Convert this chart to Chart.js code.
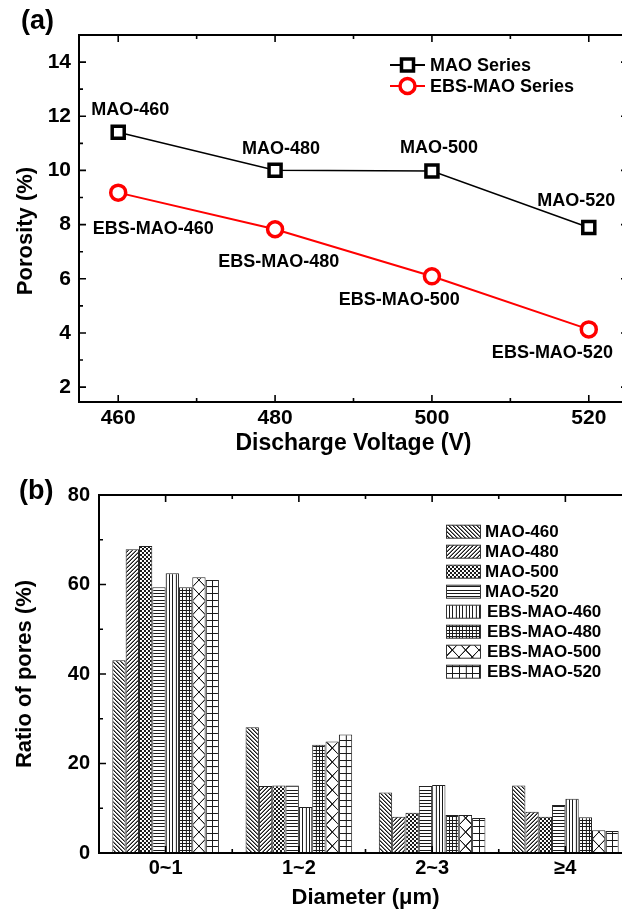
<!DOCTYPE html>
<html><head><meta charset="utf-8">
<script src="https://cdn.jsdelivr.net/npm/chart.js@4.4.1/dist/chart.umd.min.js"></script>
<style>
html,body{margin:0;padding:0;background:#fff;overflow:hidden;width:622px;height:914px;}
#ca{position:absolute;left:0;top:0;}
#cb{position:absolute;left:0;top:460px;}
</style></head><body>
<canvas id="ca" width="640" height="460" style="width:640px;height:460px"></canvas>
<canvas id="cb" width="640" height="454" style="width:640px;height:454px"></canvas>
<script>
// ---------- data (a) ----------
const voltages = [460, 480, 500, 520];
const maoPorosity = [11.41, 10.01, 9.98, 7.89];
const ebsPorosity = [9.18, 7.83, 6.09, 4.13];
const maoPointLabels = ['MAO-460', 'MAO-480', 'MAO-500', 'MAO-520'];
const ebsPointLabels = ['EBS-MAO-460', 'EBS-MAO-480', 'EBS-MAO-500', 'EBS-MAO-520'];
const seriesNamesA = ['MAO Series', 'EBS-MAO Series'];
const xTicksA = [460, 480, 500, 520];
const yTicksA = [2, 4, 6, 8, 10, 12, 14];
const yTitleA = 'Porosity (%)';

// ---------- data (b) ----------
const diameterCats = ['0~1', '1~2', '2~3', '\u22654'];
const sampleNames = ['MAO-460', 'MAO-480', 'MAO-500', 'MAO-520', 'EBS-MAO-460', 'EBS-MAO-480', 'EBS-MAO-500', 'EBS-MAO-520'];
const mao460 = [43.1, 28.1, 13.5, 15.1];
const mao480 = [67.9, 15.0, 8.1, 9.2];
const mao500 = [68.6, 15.1, 9.0, 8.1];
const mao520 = [59.4, 15.1, 15.0, 10.7];
const ebs460 = [62.5, 10.3, 15.2, 12.1];
const ebs480 = [59.4, 24.2, 8.5, 8.0];
const ebs500 = [61.6, 24.9, 8.5, 5.1];
const ebs520 = [61.0, 26.5, 7.8, 4.9];
const yTicksB = [0, 20, 40, 60, 80];

// ---------- styles ----------
const FONT = '"Liberation Sans", Arial, Helvetica, sans-serif';
Chart.defaults.font.family = FONT;
Chart.defaults.color = '#000';

const labelOffsetsA = [
  [[12, -22], [6, -21], [7, -23], [-12.5, -27]],
  [[35, 36], [3.6, 33], [-32.6, 24], [-36.4, 24]]
];

function midpoints(arr) {
  const out = [];
  for (let i = 0; i < arr.length - 1; i++) out.push((arr[i] + arr[i + 1]) / 2);
  return out;
}

function drawFrame(chart, xMaj, xMin, yMaj, yMin) {
  const {ctx, chartArea: {left, right, top, bottom}} = chart;
  const xs = chart.scales.x, ys = chart.scales.y;
  ctx.save();
  ctx.strokeStyle = '#000';
  ctx.lineWidth = 2;
  ctx.strokeRect(left, top, right - left, bottom - top);
  ctx.lineWidth = 1.6;
  ctx.beginPath();
  const vx = (vals, len) => vals.forEach(v => {
    const p = xs.getPixelForValue(v);
    ctx.moveTo(p, bottom); ctx.lineTo(p, bottom - len);
    ctx.moveTo(p, top); ctx.lineTo(p, top + len);
  });
  const vy = (vals, len) => vals.forEach(v => {
    const p = ys.getPixelForValue(v);
    ctx.moveTo(left, p); ctx.lineTo(left + len, p);
    ctx.moveTo(right, p); ctx.lineTo(right - len, p);
  });
  vx(xMaj, 7); vx(xMin, 4); vy(yMaj, 7); vy(yMin, 4);
  ctx.stroke();
  ctx.restore();
}

// ---------- chart (a) ----------
const pluginA = {
  id: 'extrasA',
  afterDatasetsDraw(chart) {
    drawFrame(chart, xTicksA, midpoints(xTicksA), yTicksA, midpoints(yTicksA));
    const ctx = chart.ctx;
    ctx.save();
    // point labels
    ctx.font = 'bold 18px ' + FONT;
    ctx.fillStyle = '#000';
    ctx.textAlign = 'center';
    ctx.textBaseline = 'middle';
    [maoPointLabels, ebsPointLabels].forEach((labels, di) => {
      const meta = chart.getDatasetMeta(di);
      meta.data.forEach((el, j) => {
        const o = labelOffsetsA[di][j];
        ctx.fillText(labels[j], el.x + o[0], el.y + o[1]);
      });
    });
    // legend
    const rows = [65, 86];
    chart.data.datasets.forEach((ds, i) => {
      const y = rows[i];
      ctx.strokeStyle = ds.borderColor;
      ctx.lineWidth = 2;
      ctx.beginPath(); ctx.moveTo(390, y); ctx.lineTo(425, y); ctx.stroke();
      ctx.fillStyle = '#fff';
      ctx.strokeStyle = ds.pointBorderColor;
      ctx.lineWidth = ds.pointBorderWidth;
      Chart.helpers.drawPoint(ctx, {pointStyle: ds.pointStyle, radius: ds.pointRadius, borderWidth: ds.pointBorderWidth, rotation: 0}, 407.5, y);
      ctx.fillStyle = '#000';
      ctx.textAlign = 'left';
      ctx.font = 'bold 18px ' + FONT;
      ctx.fillText(ds.label, 430, y + 1);
    });
    // y-axis title (placed slightly below the plot centre, as in the original)
    ctx.save();
    ctx.translate(26, 231);
    ctx.rotate(-Math.PI / 2);
    ctx.font = 'bold 22px ' + FONT;
    ctx.textAlign = 'center';
    ctx.textBaseline = 'middle';
    ctx.fillText(yTitleA, 0, 0);
    ctx.restore();
    // panel label
    ctx.font = 'bold 27px ' + FONT;
    ctx.textAlign = 'left';
    ctx.textBaseline = 'middle';
    ctx.fillText('(a)', 21, 22);
    ctx.restore();
  }
};

new Chart(document.getElementById('ca'), {
  type: 'line',
  data: {
    datasets: [
      {
        label: seriesNamesA[0],
        data: voltages.map((v, i) => ({x: v, y: maoPorosity[i]})),
        borderColor: '#000', borderWidth: 1.5,
        pointStyle: 'rect', pointRadius: 8.5, pointBorderWidth: 3.5,
        pointBackgroundColor: '#fff', pointBorderColor: '#000', tension: 0
      },
      {
        label: seriesNamesA[1],
        data: voltages.map((v, i) => ({x: v, y: ebsPorosity[i]})),
        borderColor: '#ff0000', borderWidth: 2,
        pointStyle: 'circle', pointRadius: 7.5, pointBorderWidth: 3.5,
        pointBackgroundColor: '#fff', pointBorderColor: '#ff0000', tension: 0
      }
    ]
  },
  options: {
    responsive: false, devicePixelRatio: 1, animation: false,
    layout: {padding: {left: 0, top: 35, right: 10, bottom: 0}},
    plugins: {legend: {display: false}, tooltip: {enabled: false}},
    scales: {
      x: {
        type: 'linear', min: 455, max: 525,
        afterBuildTicks: s => { s.ticks = xTicksA.map(v => ({value: v})); },
        afterFit: s => { s.height = 58; },
        grid: {display: false, drawTicks: false}, border: {display: false},
        ticks: {font: {size: 21, weight: 'bold'}, padding: 4, color: '#000', maxRotation: 0},
        title: {display: true, text: 'Discharge Voltage (V)', font: {size: 23, weight: 'bold'}, padding: {top: 0, bottom: 3}, color: '#000'}
      },
      y: {
        type: 'linear', min: 1.45, max: 15,
        afterBuildTicks: s => { s.ticks = yTicksA.map(v => ({value: v})); },
        afterFit: s => { s.width = 79; },
        grid: {display: false, drawTicks: false}, border: {display: false},
        ticks: {font: {size: 21, weight: 'bold'}, padding: 8, color: '#000'},
        title: {display: false}
      }
    }
  },
  plugins: [pluginA]
});

// ---------- chart (b) ----------
const S = 3; // tile supersampling
function makeTile(kind) {
  const c = document.createElement('canvas');
  let w = 12, h = 12;
  if (kind === 'horiz' || kind === 'vert' || kind === 'grid') { w = 10; h = 10; }
  if (kind === 'diamond') { w = 40; h = 42; }
  if (kind === 'plus') { w = 20; h = 20; }
  c.width = w; c.height = h;
  const g = c.getContext('2d');
  g.fillStyle = '#fff'; g.fillRect(0, 0, w, h);
  g.strokeStyle = '#1a1a1a'; g.fillStyle = '#1a1a1a'; g.lineWidth = S;
  const bd = () => { g.beginPath(); for (let k = -1; k <= 1; k++) { g.moveTo(k * w, 0); g.lineTo(k * w + w, h); } g.stroke(); };
  const fd = () => { g.beginPath(); for (let k = -1; k <= 1; k++) { g.moveTo(k * w, h); g.lineTo(k * w + w, 0); } g.stroke(); };
  if (kind === 'bdiag') bd();
  if (kind === 'fdiag') fd();
  if (kind === 'dcross' || kind === 'diamond') { bd(); fd(); }
  if (kind === 'horiz' || kind === 'grid' || kind === 'plus') g.fillRect(0, 0, w, S);
  if (kind === 'vert' || kind === 'grid' || kind === 'plus') g.fillRect(0, 0, S, h);
  return c;
}
const patternKinds = ['bdiag', 'fdiag', 'dcross', 'horiz', 'vert', 'grid', 'diamond', 'plus'];
const ctxB = document.getElementById('cb').getContext('2d');
const patterns = patternKinds.map(k => ctxB.createPattern(makeTile(k), 'repeat'));

const seriesB = [mao460, mao480, mao500, mao520, ebs460, ebs480, ebs500, ebs520];

const pluginB = {
  id: 'extrasB',
  beforeDatasetsDraw(chart) {
    chart.data.datasets.forEach((ds, i) => {
      const el = chart.getDatasetMeta(i).data[0];
      const x0 = el.x - el.width / 2;
      const y0 = chart.chartArea.bottom;
      patterns[i].setTransform(new DOMMatrix().translate(x0, y0).scale(1 / S));
    });
  },
  afterDatasetsDraw(chart) {
    const yMin = midpoints(yTicksB);
    const xMaj = diameterCats.map((c, i) => i);
    const xMin = diameterCats.map((c, i) => i + 0.5);
    drawFrame(chart, xMaj, xMin, yTicksB, yMin);
    const ctx = chart.ctx;
    ctx.save();
    // legend
    chart.data.datasets.forEach((ds, i) => {
      const y = 71.7 + i * 20;
      ctx.fillStyle = ds.backgroundColor;
      ctx.fillRect(446, y - 6.5, 34, 13);
      ctx.strokeStyle = '#333'; ctx.lineWidth = 1;
      ctx.strokeRect(446.5, y - 6.5, 34, 13);
      ctx.fillStyle = '#000';
      ctx.font = 'bold 17px ' + FONT;
      ctx.textAlign = 'left'; ctx.textBaseline = 'middle';
      ctx.fillText(ds.label, i < 4 ? 485 : 487, y + 1);
    });
    ctx.font = 'bold 27px ' + FONT;
    ctx.textAlign = 'left'; ctx.textBaseline = 'middle';
    ctx.fillText('(b)', 19, 32);
    ctx.restore();
  }
};

new Chart(document.getElementById('cb'), {
  type: 'bar',
  data: {
    labels: diameterCats,
    datasets: seriesB.map((vals, i) => ({
      label: sampleNames[i],
      data: vals,
      backgroundColor: patterns[i],
      borderColor: '#222', borderWidth: 1,
      categoryPercentage: 0.8, barPercentage: 1.0
    }))
  },
  options: {
    responsive: false, devicePixelRatio: 1, animation: false,
    layout: {padding: {left: 0, top: 35, right: 8, bottom: 0}},
    plugins: {legend: {display: false}, tooltip: {enabled: false}},
    scales: {
      x: {
        type: 'category', offset: true,
        afterFit: s => { s.height = 61; },
        grid: {display: false, drawTicks: false}, border: {display: false},
        ticks: {font: {size: 20, weight: 'bold'}, padding: 3, color: '#000', maxRotation: 0},
        title: {display: true, text: 'Diameter (\u03bcm)', font: {size: 22, weight: 'bold'}, padding: {top: 0, bottom: 3}, color: '#000'}
      },
      y: {
        type: 'linear', min: 0, max: 80,
        afterBuildTicks: s => { s.ticks = yTicksB.map(v => ({value: v})); },
        afterFit: s => { s.width = 99; },
        grid: {display: false, drawTicks: false}, border: {display: false},
        ticks: {font: {size: 20, weight: 'bold'}, padding: 9, color: '#000'},
        title: {display: true, text: 'Ratio of pores (%)', font: {size: 22, weight: 'bold'}, padding: {top: 12, bottom: 0}, color: '#000'}
      }
    }
  },
  plugins: [pluginB]
});
</script>
</body></html>
